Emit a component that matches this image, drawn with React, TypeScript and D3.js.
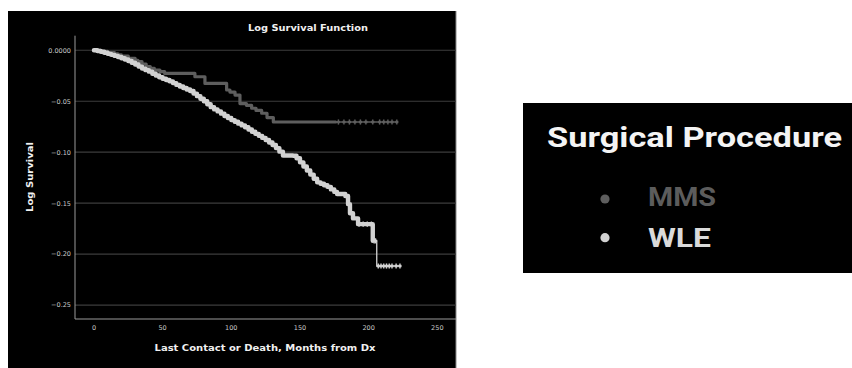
import React from "react";
import * as d3 from "d3";

// Step points (months from diagnosis, log survival) for each surgical procedure
const mmsTimes = [0, 5, 10, 15, 17.5, 20, 25, 30, 32, 35, 38, 41, 44, 48, 51.5, 73.5, 80.8, 96.6, 99, 102.7, 106.3, 111, 114.8, 118, 122.1, 126, 130.6, 220.5];
const mmsValues = [0, -0.001, -0.0022, -0.0035, -0.0046, -0.0058, -0.008, -0.01, -0.0112, -0.0135, -0.016, -0.0178, -0.0194, -0.021, -0.0227, -0.026, -0.0325, -0.039, -0.041, -0.044, -0.0523, -0.054, -0.0569, -0.059, -0.0618, -0.066, -0.0704, -0.0704];

const wleTimes = [
  0, 2.5, 5, 7.5, 10, 12.5, 15, 17.5, 20, 22.5, 25, 27.5, 30, 32.5, 35, 37.5, 40, 42.5, 45, 47.5,
  50, 52.5, 55, 57.5, 60, 62.5, 65, 67.5, 70, 72.5, 75, 77.5, 80, 82.5, 85, 87.5, 90, 92.5, 95, 97.5,
  100, 102.5, 105, 107.5, 110, 112.5, 115, 117.5, 120, 122.5, 125, 127.5, 130, 132.5, 135, 137.6,
  145, 147.5, 150, 152.5, 155, 157.5, 160, 162.5, 165, 167.5, 170, 172.5, 175, 177, 183, 185, 186.4,
  188.6, 192.3, 203, 205.9, 222.8,
];
const wleValues = [
  0, -0.0007, -0.0015, -0.0025, -0.0035, -0.0045, -0.0055, -0.0066, -0.0078, -0.0091, -0.0105, -0.0122,
  -0.014, -0.016, -0.018, -0.0195, -0.021, -0.023, -0.0248, -0.0265, -0.028, -0.0292, -0.0305, -0.0322,
  -0.034, -0.0355, -0.037, -0.0385, -0.04, -0.0425, -0.045, -0.0475, -0.05, -0.053, -0.0558, -0.058,
  -0.06, -0.0622, -0.0645, -0.0665, -0.0685, -0.0702, -0.072, -0.0737, -0.0755, -0.0778, -0.08, -0.082,
  -0.084, -0.086, -0.088, -0.0905, -0.093, -0.096, -0.0995, -0.1033, -0.1035, -0.106, -0.11, -0.114,
  -0.118, -0.122, -0.126, -0.1296, -0.131, -0.1325, -0.134, -0.1365, -0.139, -0.141, -0.143, -0.151,
  -0.16, -0.165, -0.1706, -0.187, -0.2117, -0.2117,
];

// Censored observations visible along the tails
const mmsCensored = [178, 182, 186, 190, 194, 198, 203, 208, 211, 214, 217, 220.5];
const wleCensored = [193, 196, 199, 202, 204, 205, 207, 209, 211, 213, 215, 217, 220, 222.8];

const yTicks = [0, -0.05, -0.1, -0.15, -0.2, -0.25];
const xTicks = [0, 50, 100, 150, 200, 250];

const seriesNames = ["MMS", "WLE"];
const seriesColors = ["#5e5e5e", "#d2d2d2"];

const W = 852;
const H = 368;
const plot = { left: 75, right: 456, top: 35.7, bottom: 319 };

export default function App() {
  const x = d3.scaleLinear().domain([-13.8, 263.6]).range([plot.left, plot.right]);
  const y = d3.scaleLinear().domain([0.0143, -0.2637]).range([plot.top, plot.bottom]);

  const stepLine = d3
    .line<[number, number]>()
    .x((d) => x(d[0]))
    .y((d) => y(d[1]))
    .curve(d3.curveStepAfter);

  const mms: [number, number][] = mmsTimes.map((t, i) => [t, mmsValues[i]]);
  const wle: [number, number][] = wleTimes.map((t, i) => [t, wleValues[i]]);

  // survival value at time t for a step series
  const valueAt = (pts: [number, number][], t: number) => {
    let v = pts[0][1];
    for (const p of pts) if (p[0] <= t) v = p[1];
    return v;
  };

  const series = [
    { pts: mms, censored: mmsCensored, color: seriesColors[0], dense: 176, thick: 3.2 },
    { pts: wle, censored: wleCensored, color: seriesColors[1], dense: 203, thick: 4.4 },
  ];

  const tickFont = "'DejaVu Sans', sans-serif";

  return (
    <svg
      width={W}
      height={H}
      style={{ position: "absolute", left: 0, top: 0, background: "#fff" }}
    >
      {/* chart panel */}
      <rect x={8} y={11} width={448} height={H - 11} fill="#000" />
      <line x1={456} x2={456} y1={11} y2={H} stroke="#8a8a8a" strokeWidth={1} />

      <text
        x={308}
        y={30.5}
        fill="#f0f0f0"
        fontFamily={tickFont}
        fontWeight="bold"
        fontSize={9.5}
        textAnchor="middle"
        textLength={120}
        lengthAdjust="spacingAndGlyphs"
      >
        Log Survival Function
      </text>

      {/* gridlines */}
      {yTicks.map((t) => (
        <line
          key={"g" + t}
          x1={plot.left}
          x2={plot.right}
          y1={y(t)}
          y2={y(t)}
          stroke="#3c3c3c"
          strokeWidth={1.2}
        />
      ))}

      {/* axes */}
      <line x1={plot.left} x2={plot.left} y1={plot.top} y2={plot.bottom} stroke="#9a9a9a" strokeWidth={1} />
      <line x1={plot.left} x2={plot.right} y1={plot.bottom} y2={plot.bottom} stroke="#9a9a9a" strokeWidth={1} />

      {yTicks.map((t) => (
        <text
          key={"yt" + t}
          x={71}
          y={y(t) + 2.4}
          fill="#c8c8c8"
          fontFamily={tickFont}
          fontSize={6.5}
          textAnchor="end"
        >
          {t === 0 ? "0.0000" : d3.format(".2f")(t).replace("-", "\u2212")}
        </text>
      ))}
      {xTicks.map((t) => (
        <text
          key={"xt" + t}
          x={x(t)}
          y={330}
          fill="#c8c8c8"
          fontFamily={tickFont}
          fontSize={6.5}
          textAnchor="middle"
        >
          {t}
        </text>
      ))}

      <text
        x={265}
        y={351}
        fill="#f0f0f0"
        fontFamily={tickFont}
        fontWeight="bold"
        fontSize={9.5}
        textAnchor="middle"
        textLength={221}
        lengthAdjust="spacingAndGlyphs"
      >
        Last Contact or Death, Months from Dx
      </text>
      <text
        transform={`translate(33,177) rotate(-90)`}
        fill="#f0f0f0"
        fontFamily={tickFont}
        fontWeight="bold"
        fontSize={9.5}
        textAnchor="middle"
        textLength={70}
        lengthAdjust="spacingAndGlyphs"
      >
        Log Survival
      </text>

      {/* survival curves */}
      {series.map((s, i) => {
        const densePts = s.pts.filter((p) => p[0] <= s.dense);
        densePts.push([s.dense, valueAt(s.pts, s.dense)]);
        return (
          <g key={"s" + i}>
            <path d={stepLine(s.pts) ?? ""} fill="none" stroke={s.color} strokeWidth={1.3} />
            <path
              d={stepLine(densePts) ?? ""}
              fill="none"
              stroke={s.color}
              strokeWidth={s.thick}
              strokeLinejoin="round"
              strokeLinecap="round"
            />
            {s.censored.map((t, j) => (
              <g key={"c" + j}>
                <line
                  x1={x(t)}
                  x2={x(t)}
                  y1={y(valueAt(s.pts, t)) - 2.6}
                  y2={y(valueAt(s.pts, t)) + 2.6}
                  stroke={s.color}
                  strokeWidth={1.4}
                />
                <line
                  x1={x(t) - 1.6}
                  x2={x(t) + 1.6}
                  y1={y(valueAt(s.pts, t))}
                  y2={y(valueAt(s.pts, t))}
                  stroke={s.color}
                  strokeWidth={2.4}
                />
              </g>
            ))}
          </g>
        );
      })}

      {/* legend panel */}
      <rect x={523} y={103} width={W - 523} height={170} fill="#000" />
      <text
        x={547}
        y={146.5}
        fill="#f4f4f4"
        fontFamily="Roboto, 'Liberation Sans', sans-serif"
        fontWeight="bold"
        fontSize={28.5}
        textLength={295}
        lengthAdjust="spacingAndGlyphs"
      >
        Surgical Procedure
      </text>
      {seriesNames.map((name, i) => (
        <g key={"l" + name}>
          <circle cx={605} cy={199 + i * 38.7} r={4.6} fill={seriesColors[i]} />
          <text
            x={648}
            y={206 + i * 40.5}
            fill={i === 0 ? "#5c5c5c" : "#dadada"}
            fontFamily="Roboto, 'Liberation Sans', sans-serif"
            fontWeight="bold"
            fontSize={25}
            textLength={i === 0 ? 68 : 63}
            lengthAdjust="spacingAndGlyphs"
          >
            {name}
          </text>
        </g>
      ))}
    </svg>
  );
}
